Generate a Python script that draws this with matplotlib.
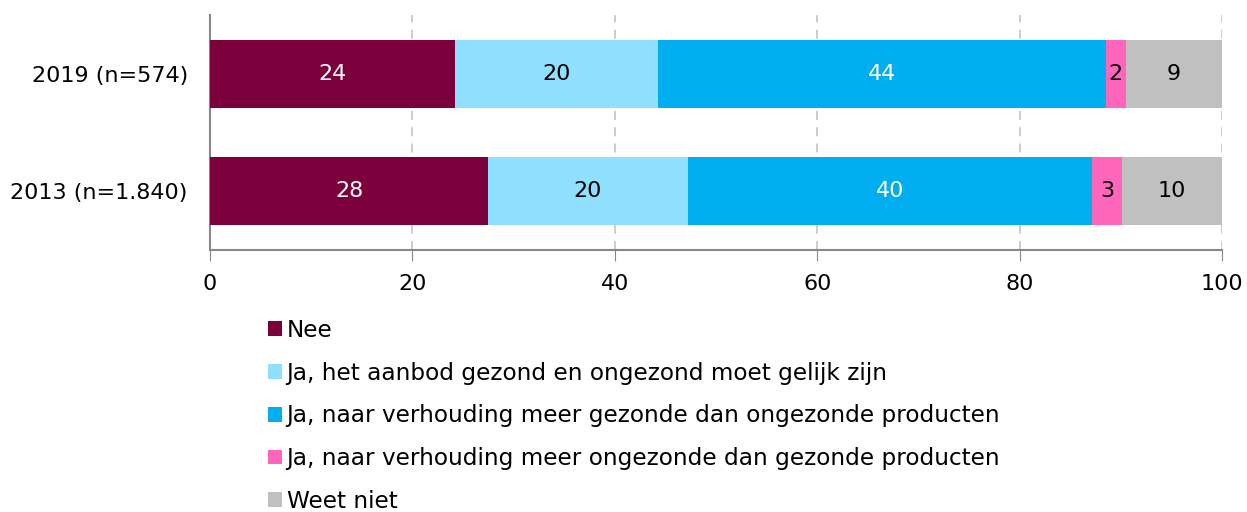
import matplotlib.pyplot as plt
from matplotlib.patches import Patch
import numpy as np

# ----------- datos -----------
jaren = ["2013 (n=1.840)", "2019 (n=574)"]
categorieen = [
    "Nee",
    "Ja, het aanbod gezond en ongezond moet gelijk zijn",
    "Ja, naar verhouding meer gezonde dan ongezonde producten",
    "Ja, naar verhouding meer ongezonde dan gezonde producten",
    "Weet niet",
]
# waarden per categorie: [2013, 2019]
nee = [27.5, 24.2]
gelijk = [19.7, 20.1]
meer_gezond = [40.0, 44.2]
meer_ongezond = [2.9, 2.0]
weet_niet = [9.9, 9.5]
# labels zoals afgedrukt
labels_nee = ["28", "24"]
labels_gelijk = ["20", "20"]
labels_gezond = ["40", "44"]
labels_ongezond = ["3", "2"]
labels_weet = ["10", "9"]

kleuren = ["#7b003c", "#8fdfff", "#00adef", "#ff66bb", "#c0c0c0"]
tekstkleur = ["white", "black", "white", "black", "black"]

series = [nee, gelijk, meer_gezond, meer_ongezond, weet_niet]
labels = [labels_nee, labels_gelijk, labels_gezond, labels_ongezond, labels_weet]

fig = plt.figure(figsize=(12.47, 5.12), dpi=100)
ax = fig.add_axes([210 / 1247, 1 - 250 / 512, 1012 / 1247, 235 / 512])

y = np.arange(len(jaren))
links = np.zeros(len(jaren))
for waarden, lab, kleur, tk in zip(series, labels, kleuren, tekstkleur):
    bars = ax.barh(y, waarden, left=links, height=0.58, color=kleur, zorder=3)
    ax.bar_label(bars, labels=lab, label_type="center", color=tk, fontsize=16)
    links = links + np.array(waarden)

ax.set_xlim(0, 100)
ax.set_ylim(-0.504, 1.504)
ax.set_xticks([0, 20, 40, 60, 80, 100])
ax.set_yticks(y)
ax.set_yticklabels(jaren, fontsize=16)
ax.tick_params(axis="x", labelsize=16, length=8, color="#888888", pad=9)
ax.tick_params(axis="y", length=0, pad=16)
ax.xaxis.grid(True, linestyle=(0, (5, 4)), color="#c8c8c8", linewidth=1.3, zorder=0)
for s in ["top", "right"]:
    ax.spines[s].set_visible(False)
for s in ["left", "bottom"]:
    ax.spines[s].set_color("#888888")
    ax.spines[s].set_linewidth(1.5)

handles = [Patch(facecolor=k, edgecolor="none") for k in kleuren]
fig.legend(handles, categorieen, loc="upper left", bbox_to_anchor=(268 / 1247, 1 - 319 / 512),
           frameon=False, fontsize=16.7, handlelength=0.6, handleheight=0.6,
           handletextpad=0.2, labelspacing=0.85, borderpad=0, borderaxespad=0)

plt.savefig("out.png", dpi=100)
plt.close()
